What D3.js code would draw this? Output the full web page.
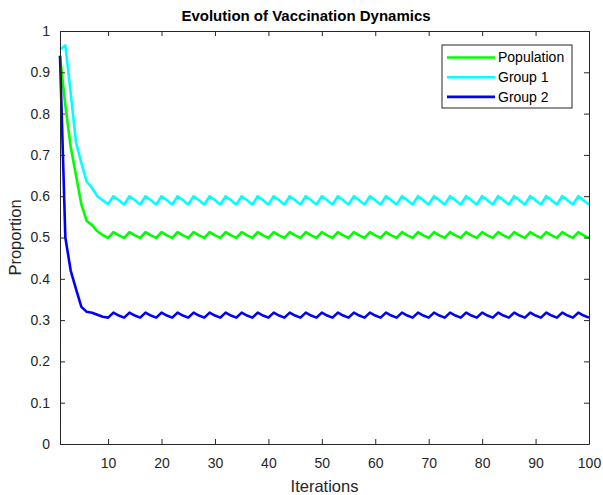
<!DOCTYPE html>
<html>
<head>
<meta charset="utf-8">
<script src="https://cdn.jsdelivr.net/npm/d3@7"></script>
<style>
  body { margin: 0; background: #fff; }
  svg { font-family: "Liberation Sans", Arial, sans-serif; }
</style>
</head>
<body>
<div id="chart"></div>
<script>
// values, iterations 1..100
var population = [
  0.94, 0.82, 0.72, 0.65, 0.58, 0.54, 0.53, 0.515, 0.506, 0.499,
  0.513, 0.505, 0.499, 0.513, 0.505, 0.499, 0.513, 0.505, 0.499, 0.513, 0.505, 0.499, 0.513, 0.505, 0.499,
  0.513, 0.505, 0.499, 0.513, 0.505, 0.499, 0.513, 0.505, 0.499, 0.513, 0.505, 0.499, 0.513, 0.505, 0.499,
  0.513, 0.505, 0.499, 0.513, 0.505, 0.499, 0.513, 0.505, 0.499, 0.513, 0.505, 0.499, 0.513, 0.505, 0.499,
  0.513, 0.505, 0.499, 0.513, 0.505, 0.499, 0.513, 0.505, 0.499, 0.513, 0.505, 0.499, 0.513, 0.505, 0.499,
  0.513, 0.505, 0.499, 0.513, 0.505, 0.499, 0.513, 0.505, 0.499, 0.513, 0.505, 0.499, 0.513, 0.505, 0.499,
  0.513, 0.505, 0.499, 0.513, 0.505, 0.499, 0.513, 0.505, 0.499, 0.513, 0.505, 0.499, 0.513, 0.505, 0.499
]
var group1 = [
  0.955, 0.965, 0.85, 0.73, 0.68, 0.635, 0.62, 0.60, 0.59, 0.581,
  0.600, 0.590, 0.580, 0.600, 0.590, 0.580, 0.600, 0.590, 0.580, 0.600, 0.590, 0.580, 0.600, 0.590, 0.580,
  0.600, 0.590, 0.580, 0.600, 0.590, 0.580, 0.600, 0.590, 0.580, 0.600, 0.590, 0.580, 0.600, 0.590, 0.580,
  0.600, 0.590, 0.580, 0.600, 0.590, 0.580, 0.600, 0.590, 0.580, 0.600, 0.590, 0.580, 0.600, 0.590, 0.580,
  0.600, 0.590, 0.580, 0.600, 0.590, 0.580, 0.600, 0.590, 0.580, 0.600, 0.590, 0.580, 0.600, 0.590, 0.580,
  0.600, 0.590, 0.580, 0.600, 0.590, 0.580, 0.600, 0.590, 0.580, 0.600, 0.590, 0.580, 0.600, 0.590, 0.580,
  0.600, 0.590, 0.580, 0.600, 0.590, 0.580, 0.600, 0.590, 0.580, 0.600, 0.590, 0.580, 0.600, 0.590, 0.580
]
var group2 = [
  0.94, 0.50, 0.42, 0.375, 0.332, 0.32, 0.318, 0.313, 0.308, 0.306,
  0.318, 0.311, 0.306, 0.318, 0.311, 0.306, 0.318, 0.311, 0.306, 0.318, 0.311, 0.306, 0.318, 0.311, 0.306,
  0.318, 0.311, 0.306, 0.318, 0.311, 0.306, 0.318, 0.311, 0.306, 0.318, 0.311, 0.306, 0.318, 0.311, 0.306,
  0.318, 0.311, 0.306, 0.318, 0.311, 0.306, 0.318, 0.311, 0.306, 0.318, 0.311, 0.306, 0.318, 0.311, 0.306,
  0.318, 0.311, 0.306, 0.318, 0.311, 0.306, 0.318, 0.311, 0.306, 0.318, 0.311, 0.306, 0.318, 0.311, 0.306,
  0.318, 0.311, 0.306, 0.318, 0.311, 0.306, 0.318, 0.311, 0.306, 0.318, 0.311, 0.306, 0.318, 0.311, 0.306,
  0.318, 0.311, 0.306, 0.318, 0.311, 0.306, 0.318, 0.311, 0.306, 0.318, 0.311, 0.306, 0.318, 0.311, 0.306
]
var seriesNames = ["Population", "Group 1", "Group 2"]
var seriesColors = ["#00ff00", "#00ffff", "#0000ff"]
var xTicks = [10, 20, 30, 40, 50, 60, 70, 80, 90, 100]
var yTicks = [0, 0.1, 0.2, 0.3, 0.4, 0.5, 0.6, 0.7, 0.8, 0.9, 1]

var width = 603, height = 495
var margin = {top: 31, right: 14, bottom: 51, left: 60}
var axisColor = "#262626"

var svg = d3.select("#chart").append("svg")
  .attr("width", width)
  .attr("height", height)

var x = d3.scaleLinear().domain([1, 100]).range([margin.left, width - margin.right])
var y = d3.scaleLinear().domain([0, 1]).range([height - margin.bottom, margin.top])

// lines first, box on top like matlab
var allSeries = [population, group1, group2]
var line = d3.line()
  .x(function(d, i) { return x(i + 1) })
  .y(function(d) { return y(d) })

svg.append("g").selectAll("path")
  .data(allSeries)
  .join("path")
    .attr("fill", "none")
    .attr("stroke", function(d, i) { return seriesColors[i] })
    .attr("stroke-width", 2.6)
    .attr("stroke-linejoin", "round")
    .attr("d", line)

var tickLen = 5
var bottom = svg.append("g")
  .attr("transform", "translate(0," + (height - margin.bottom) + ")")
  .call(d3.axisBottom(x).tickValues(xTicks).tickSizeInner(-tickLen).tickSizeOuter(0).tickPadding(14))
var top = svg.append("g")
  .attr("transform", "translate(0," + margin.top + ")")
  .call(d3.axisTop(x).tickValues(xTicks).tickSizeInner(-tickLen).tickSizeOuter(0).tickFormat(""))
var left = svg.append("g")
  .attr("transform", "translate(" + margin.left + ",0)")
  .call(d3.axisLeft(y).tickValues(yTicks).tickSizeInner(-tickLen).tickSizeOuter(0).tickPadding(10).tickFormat(d3.format("~g")))
var right = svg.append("g")
  .attr("transform", "translate(" + (width - margin.right) + ",0)")
  .call(d3.axisRight(y).tickValues(yTicks).tickSizeInner(-tickLen).tickSizeOuter(0).tickFormat(""))

svg.selectAll(".domain, .tick line").attr("stroke", axisColor)
svg.selectAll(".tick text")
  .attr("fill", axisColor)
  .style("font-size", "14px")
  .style("font-family", "Liberation Sans, Arial, sans-serif")

// title sits a bit left of the plot centre in the original
svg.append("text")
  .attr("x", 306)
  .attr("y", 21)
  .attr("text-anchor", "middle")
  .style("font-size", "15px")
  .style("font-weight", "bold")
  .attr("fill", "#000")
  .text("Evolution of Vaccination Dynamics")

svg.append("text")
  .attr("x", (margin.left + width - margin.right) / 2)
  .attr("y", 492)
  .attr("text-anchor", "middle")
  .style("font-size", "16.5px")
  .attr("fill", axisColor)
  .text("Iterations")

svg.append("text")
  .attr("transform", "translate(21," + ((margin.top + height - margin.bottom) / 2) + ") rotate(-90)")
  .attr("text-anchor", "middle")
  .style("font-size", "16.5px")
  .attr("fill", axisColor)
  .text("Proportion")

// legend box
var lg = svg.append("g").attr("transform", "translate(442,45)")
lg.append("rect")
  .attr("width", 130).attr("height", 63)
  .attr("fill", "#fff").attr("stroke", axisColor).attr("stroke-width", 1)
seriesNames.forEach(function(name, i) {
  var yy = 12.5 + i * 19.7
  lg.append("line").attr("x1", 5).attr("x2", 53).attr("y1", yy).attr("y2", yy)
    .attr("stroke", seriesColors[i]).attr("stroke-width", 2.6)
  lg.append("text").attr("x", 56).attr("y", yy).attr("dy", "0.35em")
    .style("font-size", "14px").attr("fill", "#000").text(name)
})
</script>
</body>
</html>
